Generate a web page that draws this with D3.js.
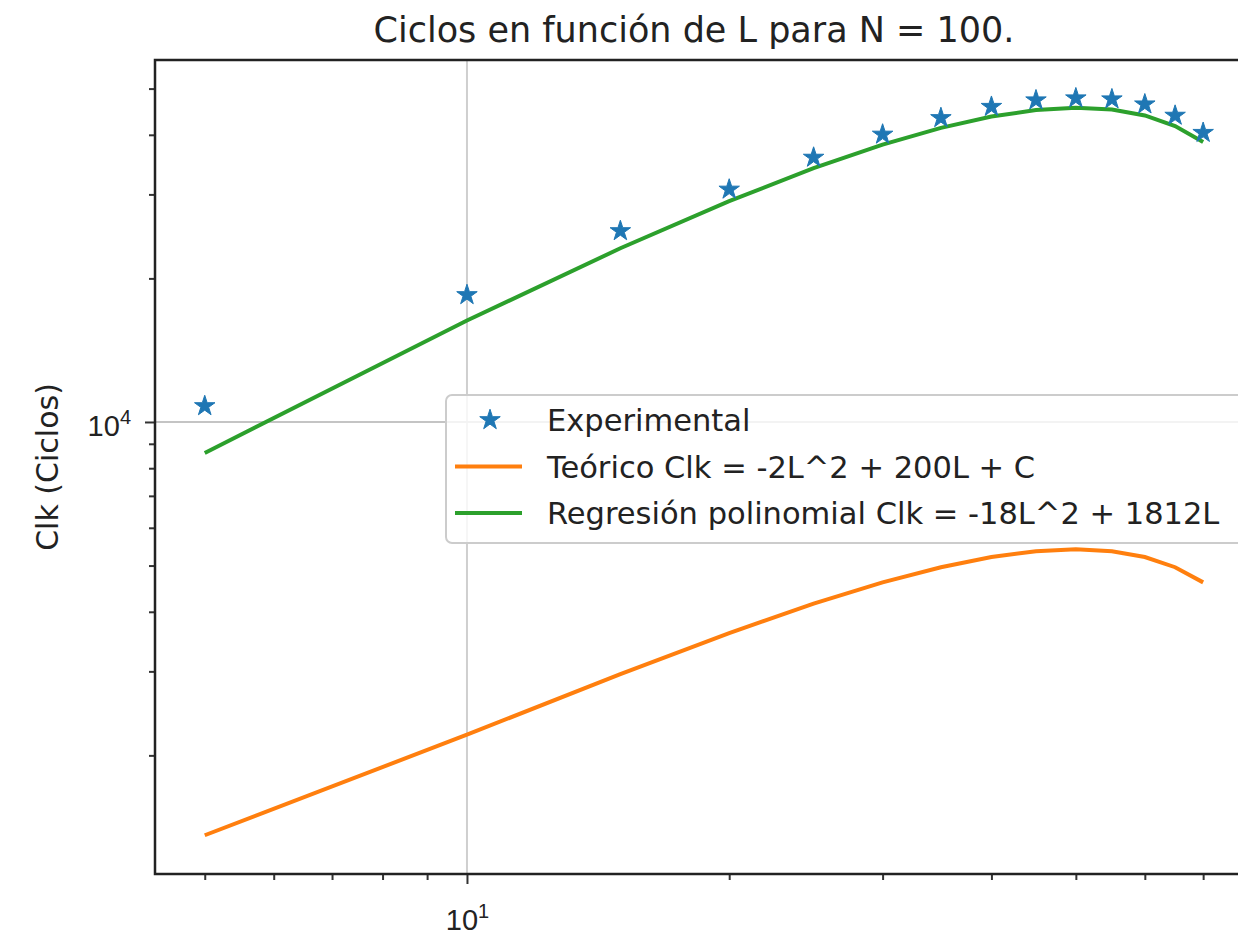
<!DOCTYPE html>
<html>
<head>
<meta charset="utf-8">
<script src="https://cdn.jsdelivr.net/npm/d3@7"></script>
<style>
  body { margin: 0; background: #fff; }
  svg { display: block; font-family: "DejaVu Sans", sans-serif; }
</style>
</head>
<body>
<div id="chart"></div>
<script>
// Data
var L = [5, 10, 15, 20, 25, 30, 35, 40, 45, 50, 55, 60, 65, 70];
var experimental = [10800, 18460, 25140, 30720, 35840, 40060, 43390, 45810, 47270, 47730, 47500, 46350, 43890, 40400];
var teorico = [1360, 2210, 2960, 3610, 4160, 4610, 4960, 5210, 5360, 5410, 5360, 5210, 4960, 4610];
var regresion = [8610, 16320, 23130, 29040, 34050, 38160, 41370, 43680, 45090, 45600, 45210, 43920, 41730, 38640];

var xMajorTicks = [10];
var xMinorTicks = [5, 6, 7, 8, 9, 20, 30, 40, 50, 60, 70];
var yMajorTicks = [10000];
var yMinorTicks = [2000, 3000, 4000, 5000, 6000, 7000, 8000, 9000, 20000, 30000, 40000, 50000];

var legendLabels = ['Experimental', 'Teórico Clk = -2L^2 + 200L + C', 'Regresión polinomial Clk = -18L^2 + 1812L'];
var colors = ['#1f77b4', '#ff7f0e', '#2ca02c'];

// Layout
var width = 1238,
  height = 936,
  margin = {top: 60, left: 155},
  plotW = 1098,
  plotH = 814;

var svg = d3.select('#chart').append('svg')
  .attr('width', width)
  .attr('height', height);

svg.append('rect').attr('width', width).attr('height', height).attr('fill', 'white');

// Scales (axis limits as in the picture)
var x = d3.scaleLog().domain([4.384, 79.86]).range([margin.left, margin.left + plotW]);
var y = d3.scaleLog().domain([1128, 57400]).range([margin.top + plotH, margin.top]);

var g = svg.append('g');

// Major grid lines
g.selectAll('line.gx').data(xMajorTicks).enter().append('line')
  .attr('x1', x).attr('x2', x)
  .attr('y1', margin.top).attr('y2', margin.top + plotH)
  .attr('stroke', '#cfcfcf').attr('stroke-width', 2);
g.selectAll('line.gy').data(yMajorTicks).enter().append('line')
  .attr('x1', margin.left).attr('x2', margin.left + plotW)
  .attr('y1', y).attr('y2', y)
  .attr('stroke', '#c4c4c4').attr('stroke-width', 2);

// Lines
var line = d3.line()
  .x(function (d, i) { return x(L[i]); })
  .y(function (d) { return y(d); });

g.append('path').datum(teorico)
  .attr('d', line).attr('fill', 'none')
  .attr('stroke', colors[1]).attr('stroke-width', 4);
g.append('path').datum(regresion)
  .attr('d', line).attr('fill', 'none')
  .attr('stroke', colors[2]).attr('stroke-width', 4);

// Star markers
var star = d3.symbol().type(d3.symbolStar).size(130);
g.selectAll('path.star').data(experimental).enter().append('path')
  .attr('class', 'star')
  .attr('d', star)
  .attr('transform', function (d, i) { return 'translate(' + x(L[i]) + ',' + y(d) + ')'; })
  .attr('fill', colors[0]).attr('stroke', colors[0]).attr('stroke-width', 1);

// Axes
function styleAxis(sel) {
  sel.select('.domain').remove();
  sel.selectAll('.tick line').attr('stroke', '#333').attr('stroke-width', 2);
}

var xMinor = g.append('g')
  .attr('transform', 'translate(0,' + (margin.top + plotH) + ')')
  .call(d3.axisBottom(x).tickValues(xMinorTicks).tickSize(6).tickFormat(''));
styleAxis(xMinor);
var xMajor = g.append('g')
  .attr('transform', 'translate(0,' + (margin.top + plotH) + ')')
  .call(d3.axisBottom(x).tickValues(xMajorTicks).tickSize(10).tickFormat(''));
styleAxis(xMajor);
xMajor.selectAll('.tick').append('text')
  .attr('y', 56).attr('text-anchor', 'middle')
  .attr('fill', '#222').style('font-size', '29px')
  .each(function (d) {
    var t = d3.select(this);
    t.append('tspan').text('10');
    t.append('tspan').attr('dy', -12).style('font-size', '20px').text(Math.round(Math.log10(d)));
  });

var yMinor = g.append('g')
  .attr('transform', 'translate(' + margin.left + ',0)')
  .call(d3.axisLeft(y).tickValues(yMinorTicks).tickSize(6).tickFormat(''));
styleAxis(yMinor);
var yMajor = g.append('g')
  .attr('transform', 'translate(' + margin.left + ',0)')
  .call(d3.axisLeft(y).tickValues(yMajorTicks).tickSize(10).tickFormat(''));
styleAxis(yMajor);
yMajor.selectAll('.tick').append('text')
  .attr('x', -24).attr('y', 14).attr('text-anchor', 'end')
  .attr('fill', '#222').style('font-size', '29px')
  .each(function (d) {
    var t = d3.select(this);
    t.append('tspan').text('10');
    t.append('tspan').attr('dy', -12).style('font-size', '20px').text(Math.round(Math.log10(d)));
  });

// Spines (left, bottom, top; right edge falls outside the picture)
g.append('rect')
  .attr('x', margin.left).attr('y', margin.top)
  .attr('width', plotW).attr('height', plotH)
  .attr('fill', 'none').attr('stroke', '#222').attr('stroke-width', 2.5);

// Legend
var legend = svg.append('g').attr('transform', 'translate(446,395)');
legend.append('rect')
  .attr('width', 800).attr('height', 148).attr('rx', 6)
  .attr('fill', 'white').attr('fill-opacity', 0.8)
  .attr('stroke', '#cccccc').attr('stroke-width', 2);

var rows = legend.selectAll('g.row').data(legendLabels).enter().append('g')
  .attr('class', 'row')
  .attr('transform', function (d, i) { return 'translate(0,' + (25 + i * 46.5) + ')'; });

rows.append('text')
  .attr('x', 101).attr('y', 11)
  .attr('fill', '#222').style('font-size', '30.5px')
  .text(function (d) { return d; });

rows.filter(function (d, i) { return i > 0; }).append('line')
  .attr('x1', 9).attr('x2', 76).attr('y1', 0).attr('y2', 0)
  .attr('stroke', function (d, i) { return colors[i + 1]; })
  .attr('stroke-width', 4);

rows.filter(function (d, i) { return i === 0; }).append('path')
  .attr('d', star)
  .attr('transform', 'translate(44,0)')
  .attr('fill', colors[0]).attr('stroke', colors[0]).attr('stroke-width', 1);

// Title and axis label
svg.append('text')
  .attr('x', 694).attr('y', 42)
  .attr('text-anchor', 'middle')
  .attr('fill', '#222').style('font-size', '35px')
  .text('Ciclos en función de L para N = 100.');

svg.append('text')
  .attr('transform', 'translate(58,' + (margin.top + plotH / 2) + ') rotate(-90)')
  .attr('text-anchor', 'middle')
  .attr('fill', '#222').style('font-size', '30px')
  .text('Clk (Ciclos)');
</script>
</body>
</html>
